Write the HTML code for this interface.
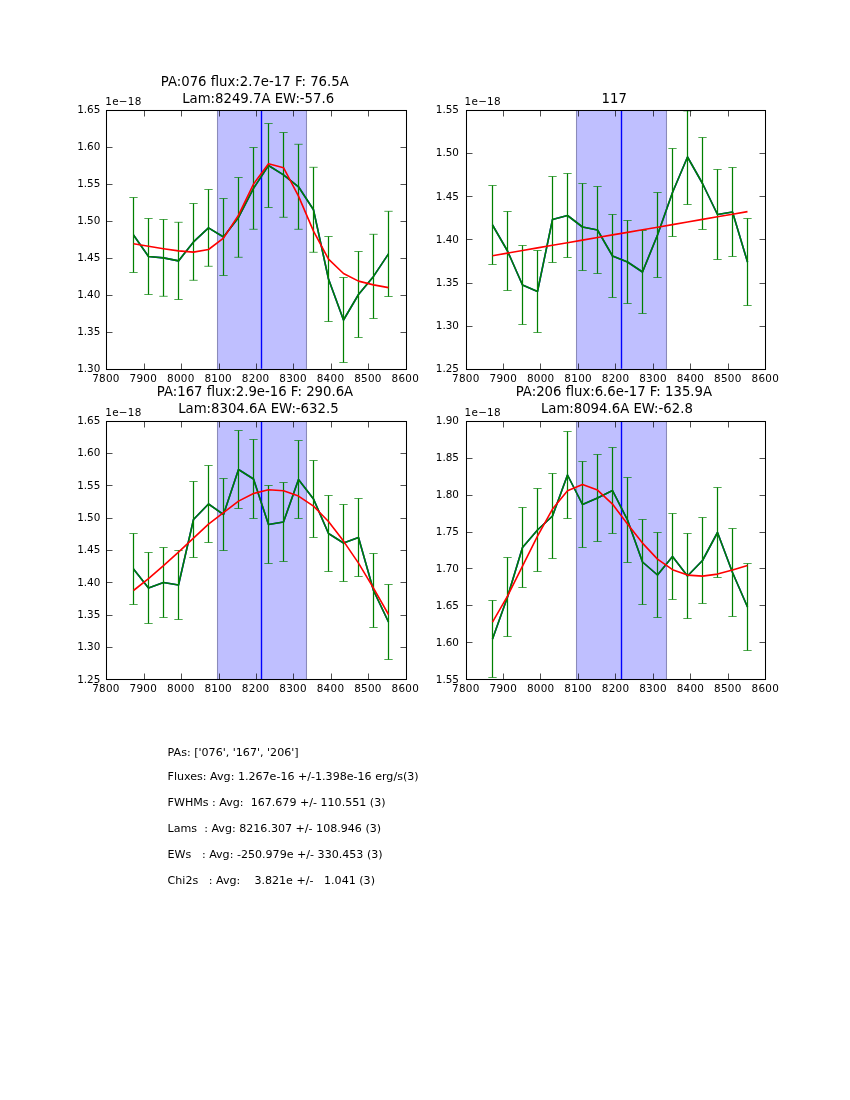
<!DOCTYPE html>
<html lang="en"><head><meta charset="utf-8"><title>Line fits</title>
<style>
html,body{margin:0;padding:0;background:#fff}
svg{display:block}
svg text{font-family:"DejaVu Sans","Liberation Sans",sans-serif;fill:#000;white-space:pre}
</style></head><body>
<svg width="850" height="1100" viewBox="0 0 850 1100">
<rect width="850" height="1100" fill="#fff"/>
<g id="ax1">
<clipPath id="c1"><rect x="106.5" y="110.5" width="300.0" height="259.0"/></clipPath>
<g clip-path="url(#c1)">
<rect x="217" y="108.00" width="90" height="262.82" fill="#0000ff" fill-opacity="0.25"/>
<path d="M217.5 110.0V368.82M306.5 110.0V368.82" stroke="#000" stroke-opacity="0.27" stroke-width="1.1" fill="none"/>
<line x1="261.5" y1="110.0" x2="261.5" y2="368.82" stroke="#0000ff" stroke-width="1.39"/>
<polyline points="133.5,235.0 148.5,256.5 163.5,257.9 178.5,260.9 193.5,241.9 208.5,227.9 223.5,237.0 238.5,217.4 253.5,188.4 268.5,165.5 283.5,174.9 298.5,186.8 313.5,209.8 328.5,279.0 343.5,320.0 358.5,294.5 373.5,276.4 388.5,253.9" fill="none" stroke="#0000ff" stroke-width="1.6" stroke-linejoin="round"/>
<path d="M133.5 197.5V272.5M148.5 218.5V294.5M163.5 219.5V296.3M178.5 222.3V299.5M193.5 203.5V280.3M208.5 189.5V266.3M223.5 198.5V275.5M238.5 177.5V257.3M253.5 147.5V229.3M268.5 123.5V207.5M283.5 132.5V217.3M298.5 144.3V229.3M313.5 167.3V252.3M328.5 236.5V321.5M343.5 277.5V362.5M358.5 251.5V337.5M373.5 234.3V318.5M388.5 211.3V296.5" stroke="#008000" stroke-width="1.25" fill="none"/>
<path d="M129.33 197.5H137.67M129.33 272.5H137.67M144.33 218.5H152.67M144.33 294.5H152.67M159.33 219.5H167.67M159.33 296.3H167.67M174.33 222.3H182.67M174.33 299.5H182.67M189.33 203.5H197.67M189.33 280.3H197.67M204.33 189.5H212.67M204.33 266.3H212.67M219.33 198.5H227.67M219.33 275.5H227.67M234.33 177.5H242.67M234.33 257.3H242.67M249.33 147.5H257.67M249.33 229.3H257.67M264.33 123.5H272.67M264.33 207.5H272.67M279.33 132.5H287.67M279.33 217.3H287.67M294.33 144.3H302.67M294.33 229.3H302.67M309.33 167.3H317.67M309.33 252.3H317.67M324.33 236.5H332.67M324.33 321.5H332.67M339.33 277.5H347.67M339.33 362.5H347.67M354.33 251.5H362.67M354.33 337.5H362.67M369.33 234.3H377.67M369.33 318.5H377.67M384.33 211.3H392.67M384.33 296.5H392.67" stroke="#008000" stroke-width="0.69" fill="none"/>
<polyline points="133.5,235.0 148.5,256.5 163.5,257.9 178.5,260.9 193.5,241.9 208.5,227.9 223.5,237.0 238.5,217.4 253.5,188.4 268.5,165.5 283.5,174.9 298.5,186.8 313.5,209.8 328.5,279.0 343.5,320.0 358.5,294.5 373.5,276.4 388.5,253.9" fill="none" stroke="#008000" stroke-width="1.6" stroke-linejoin="round"/>
<polyline points="133.5,243.7 148.5,246.3 163.5,248.7 178.5,250.9 193.5,252.1 208.5,249.5 223.5,238.1 238.5,215.1 253.5,184.1 268.5,163.7 283.5,167.7 298.5,196.1 313.5,231.1 328.5,259.1 343.5,273.5 358.5,281.1 373.5,284.9 388.5,287.6" fill="none" stroke="#ff0000" stroke-width="1.6" stroke-linejoin="round"/>
</g>
<path d="M106.5 369.5v-6.0M106.5 110.5v6.0M144.5 369.5v-6.0M144.5 110.5v6.0M181.5 369.5v-6.0M181.5 110.5v6.0M219.5 369.5v-6.0M219.5 110.5v6.0M256.5 369.5v-6.0M256.5 110.5v6.0M293.5 369.5v-6.0M293.5 110.5v6.0M331.5 369.5v-6.0M331.5 110.5v6.0M368.5 369.5v-6.0M368.5 110.5v6.0M406.5 369.5v-6.0M406.5 110.5v6.0M106.5 110.5h6.0M406.5 110.5h-6.0M106.5 147.5h6.0M406.5 147.5h-6.0M106.5 184.5h6.0M406.5 184.5h-6.0M106.5 221.5h6.0M406.5 221.5h-6.0M106.5 258.5h6.0M406.5 258.5h-6.0M106.5 295.5h6.0M406.5 295.5h-6.0M106.5 332.5h6.0M406.5 332.5h-6.0M106.5 369.5h6.0M406.5 369.5h-6.0" stroke="#000" stroke-width="0.69" fill="none"/>
<rect x="106.5" y="110.5" width="300.0" height="259.0" fill="none" stroke="#000" stroke-width="1.05"/>
<g font-size="10.42" letter-spacing="0.27">
<text x="105.95" y="381.80" text-anchor="middle">7800</text>
<text x="143.38" y="381.80" text-anchor="middle">7900</text>
<text x="180.81" y="381.80" text-anchor="middle">8000</text>
<text x="218.24" y="381.80" text-anchor="middle">8100</text>
<text x="255.66" y="381.80" text-anchor="middle">8200</text>
<text x="293.09" y="381.80" text-anchor="middle">8300</text>
<text x="330.52" y="381.80" text-anchor="middle">8400</text>
<text x="367.95" y="381.80" text-anchor="middle">8500</text>
<text x="405.38" y="381.80" text-anchor="middle">8600</text>
<text x="100.35" y="113.30" text-anchor="end" letter-spacing="0">1.65</text>
<text x="100.35" y="150.27" text-anchor="end" letter-spacing="0">1.60</text>
<text x="100.35" y="187.25" text-anchor="end" letter-spacing="0">1.55</text>
<text x="100.35" y="224.22" text-anchor="end" letter-spacing="0">1.50</text>
<text x="100.35" y="261.20" text-anchor="end" letter-spacing="0">1.45</text>
<text x="100.35" y="298.17" text-anchor="end" letter-spacing="0">1.40</text>
<text x="100.35" y="335.15" text-anchor="end" letter-spacing="0">1.35</text>
<text x="100.35" y="372.12" text-anchor="end" letter-spacing="0">1.30</text>
<text x="105.25" y="105.00">1e−18</text>
</g>
<g font-size="13.25" text-anchor="middle">
<text x="254.77" y="85.80">PA:076 flux:2.7e-17 F: 76.5A</text>
<text x="258.17" y="102.60">Lam:8249.7A EW:-57.6</text>
</g>
</g>
<g id="ax2">
<clipPath id="c2"><rect x="466.5" y="110.5" width="299.0" height="259.0"/></clipPath>
<g clip-path="url(#c2)">
<rect x="576" y="108.00" width="91" height="262.82" fill="#0000ff" fill-opacity="0.25"/>
<path d="M576.5 110.0V368.82M666.5 110.0V368.82" stroke="#000" stroke-opacity="0.27" stroke-width="1.1" fill="none"/>
<line x1="621.5" y1="110.0" x2="621.5" y2="368.82" stroke="#0000ff" stroke-width="1.39"/>
<polyline points="492.5,225.0 507.5,251.0 522.5,285.0 537.5,291.5 552.5,219.5 567.5,215.5 582.5,227.0 597.5,230.0 612.5,256.0 627.5,262.0 642.5,272.0 657.5,235.0 672.5,192.5 687.5,157.0 702.5,183.5 717.5,214.5 732.5,212.0 747.5,262.0" fill="none" stroke="#0000ff" stroke-width="1.6" stroke-linejoin="round"/>
<path d="M492.5 185.5V264.5M507.5 211.5V290.5M522.5 245.5V324.5M537.5 250.5V332.5M552.5 176.5V262.5M567.5 173.5V257.5M582.5 183.5V270.5M597.5 186.5V273.5M612.5 214.5V297.5M627.5 220.5V303.5M642.5 230.5V313.5M657.5 192.5V277.5M672.5 148.5V236.5M687.5 110.9V204.5M702.5 137.5V229.5M717.5 169.5V259.5M732.5 167.5V256.5M747.5 218.5V305.5" stroke="#008000" stroke-width="1.25" fill="none"/>
<path d="M488.33 185.5H496.67M488.33 264.5H496.67M503.33 211.5H511.67M503.33 290.5H511.67M518.33 245.5H526.67M518.33 324.5H526.67M533.33 250.5H541.67M533.33 332.5H541.67M548.33 176.5H556.67M548.33 262.5H556.67M563.33 173.5H571.67M563.33 257.5H571.67M578.33 183.5H586.67M578.33 270.5H586.67M593.33 186.5H601.67M593.33 273.5H601.67M608.33 214.5H616.67M608.33 297.5H616.67M623.33 220.5H631.67M623.33 303.5H631.67M638.33 230.5H646.67M638.33 313.5H646.67M653.33 192.5H661.67M653.33 277.5H661.67M668.33 148.5H676.67M668.33 236.5H676.67M683.33 110.9H691.67M683.33 204.5H691.67M698.33 137.5H706.67M698.33 229.5H706.67M713.33 169.5H721.67M713.33 259.5H721.67M728.33 167.5H736.67M728.33 256.5H736.67M743.33 218.5H751.67M743.33 305.5H751.67" stroke="#008000" stroke-width="0.69" fill="none"/>
<polyline points="492.5,225.0 507.5,251.0 522.5,285.0 537.5,291.5 552.5,219.5 567.5,215.5 582.5,227.0 597.5,230.0 612.5,256.0 627.5,262.0 642.5,272.0 657.5,235.0 672.5,192.5 687.5,157.0 702.5,183.5 717.5,214.5 732.5,212.0 747.5,262.0" fill="none" stroke="#008000" stroke-width="1.6" stroke-linejoin="round"/>
<polyline points="492.5,255.7 507.5,253.1 522.5,250.5 537.5,247.9 552.5,245.3 567.5,242.7 582.5,240.1 597.5,237.5 612.5,234.9 627.5,232.4 642.5,229.8 657.5,227.2 672.5,224.6 687.5,222.0 702.5,219.4 717.5,216.8 732.5,214.2 747.5,211.6" fill="none" stroke="#ff0000" stroke-width="1.6" stroke-linejoin="round"/>
</g>
<path d="M466.5 369.5v-6.0M466.5 110.5v6.0M503.5 369.5v-6.0M503.5 110.5v6.0M540.5 369.5v-6.0M540.5 110.5v6.0M578.5 369.5v-6.0M578.5 110.5v6.0M615.5 369.5v-6.0M615.5 110.5v6.0M653.5 369.5v-6.0M653.5 110.5v6.0M690.5 369.5v-6.0M690.5 110.5v6.0M728.5 369.5v-6.0M728.5 110.5v6.0M765.5 369.5v-6.0M765.5 110.5v6.0M466.5 110.5h6.0M765.5 110.5h-6.0M466.5 153.5h6.0M765.5 153.5h-6.0M466.5 196.5h6.0M765.5 196.5h-6.0M466.5 239.5h6.0M765.5 239.5h-6.0M466.5 283.5h6.0M765.5 283.5h-6.0M466.5 326.5h6.0M765.5 326.5h-6.0M466.5 369.5h6.0M765.5 369.5h-6.0" stroke="#000" stroke-width="0.69" fill="none"/>
<rect x="466.5" y="110.5" width="299.0" height="259.0" fill="none" stroke="#000" stroke-width="1.05"/>
<g font-size="10.42" letter-spacing="0.27">
<text x="465.87" y="381.80" text-anchor="middle">7800</text>
<text x="503.30" y="381.80" text-anchor="middle">7900</text>
<text x="540.73" y="381.80" text-anchor="middle">8000</text>
<text x="578.16" y="381.80" text-anchor="middle">8100</text>
<text x="615.58" y="381.80" text-anchor="middle">8200</text>
<text x="653.01" y="381.80" text-anchor="middle">8300</text>
<text x="690.44" y="381.80" text-anchor="middle">8400</text>
<text x="727.87" y="381.80" text-anchor="middle">8500</text>
<text x="765.30" y="381.80" text-anchor="middle">8600</text>
<text x="458.97" y="113.30" text-anchor="end" letter-spacing="0">1.55</text>
<text x="458.97" y="156.44" text-anchor="end" letter-spacing="0">1.50</text>
<text x="458.97" y="199.57" text-anchor="end" letter-spacing="0">1.45</text>
<text x="458.97" y="242.71" text-anchor="end" letter-spacing="0">1.40</text>
<text x="458.97" y="285.85" text-anchor="end" letter-spacing="0">1.35</text>
<text x="458.97" y="328.98" text-anchor="end" letter-spacing="0">1.30</text>
<text x="458.97" y="372.12" text-anchor="end" letter-spacing="0">1.25</text>
<text x="464.57" y="105.00">1e−18</text>
</g>
<g font-size="13.25" text-anchor="middle">
<text x="614.18" y="102.60">117</text>
</g>
</g>
<g id="ax3">
<clipPath id="c3"><rect x="106.5" y="421.5" width="300.0" height="258.0"/></clipPath>
<g clip-path="url(#c3)">
<rect x="217" y="418.59" width="90" height="262.82" fill="#0000ff" fill-opacity="0.25"/>
<path d="M217.5 420.59V679.41M306.5 420.59V679.41" stroke="#000" stroke-opacity="0.27" stroke-width="1.1" fill="none"/>
<line x1="261.5" y1="420.59" x2="261.5" y2="679.41" stroke="#0000ff" stroke-width="1.39"/>
<polyline points="133.5,569.0 148.5,588.0 163.5,582.5 178.5,585.0 193.5,519.5 208.5,504.0 223.5,514.5 238.5,469.5 253.5,479.0 268.5,524.5 283.5,522.0 298.5,479.5 313.5,499.0 328.5,533.5 343.5,543.0 358.5,537.5 373.5,590.5 388.5,622.0" fill="none" stroke="#0000ff" stroke-width="1.6" stroke-linejoin="round"/>
<path d="M133.5 533.5V604.5M148.5 552.5V623.5M163.5 547.5V617.5M178.5 550.5V619.5M193.5 481.5V557.5M208.5 465.5V542.5M223.5 478.5V550.5M238.5 430.5V508.5M253.5 439.5V518.5M268.5 485.5V563.5M283.5 482.5V561.5M298.5 440.5V518.5M313.5 460.5V537.5M328.5 495.5V571.5M343.5 504.5V581.5M358.5 498.5V576.5M373.5 553.5V627.5M388.5 584.5V659.5" stroke="#008000" stroke-width="1.25" fill="none"/>
<path d="M129.33 533.5H137.67M129.33 604.5H137.67M144.33 552.5H152.67M144.33 623.5H152.67M159.33 547.5H167.67M159.33 617.5H167.67M174.33 550.5H182.67M174.33 619.5H182.67M189.33 481.5H197.67M189.33 557.5H197.67M204.33 465.5H212.67M204.33 542.5H212.67M219.33 478.5H227.67M219.33 550.5H227.67M234.33 430.5H242.67M234.33 508.5H242.67M249.33 439.5H257.67M249.33 518.5H257.67M264.33 485.5H272.67M264.33 563.5H272.67M279.33 482.5H287.67M279.33 561.5H287.67M294.33 440.5H302.67M294.33 518.5H302.67M309.33 460.5H317.67M309.33 537.5H317.67M324.33 495.5H332.67M324.33 571.5H332.67M339.33 504.5H347.67M339.33 581.5H347.67M354.33 498.5H362.67M354.33 576.5H362.67M369.33 553.5H377.67M369.33 627.5H377.67M384.33 584.5H392.67M384.33 659.5H392.67" stroke="#008000" stroke-width="0.69" fill="none"/>
<polyline points="133.5,569.0 148.5,588.0 163.5,582.5 178.5,585.0 193.5,519.5 208.5,504.0 223.5,514.5 238.5,469.5 253.5,479.0 268.5,524.5 283.5,522.0 298.5,479.5 313.5,499.0 328.5,533.5 343.5,543.0 358.5,537.5 373.5,590.5 388.5,622.0" fill="none" stroke="#008000" stroke-width="1.6" stroke-linejoin="round"/>
<polyline points="133.5,590.5 148.5,578.7 163.5,565.7 178.5,552.1 193.5,538.1 208.5,524.1 223.5,512.7 238.5,501.1 253.5,493.5 268.5,489.7 283.5,490.7 298.5,496.1 313.5,506.1 328.5,521.5 343.5,541.1 358.5,563.1 373.5,588.1 388.5,614.5" fill="none" stroke="#ff0000" stroke-width="1.6" stroke-linejoin="round"/>
</g>
<path d="M106.5 679.5v-6.0M106.5 421.5v6.0M144.5 679.5v-6.0M144.5 421.5v6.0M181.5 679.5v-6.0M181.5 421.5v6.0M219.5 679.5v-6.0M219.5 421.5v6.0M256.5 679.5v-6.0M256.5 421.5v6.0M293.5 679.5v-6.0M293.5 421.5v6.0M331.5 679.5v-6.0M331.5 421.5v6.0M368.5 679.5v-6.0M368.5 421.5v6.0M406.5 679.5v-6.0M406.5 421.5v6.0M106.5 421.5h6.0M406.5 421.5h-6.0M106.5 453.5h6.0M406.5 453.5h-6.0M106.5 485.5h6.0M406.5 485.5h-6.0M106.5 518.5h6.0M406.5 518.5h-6.0M106.5 550.5h6.0M406.5 550.5h-6.0M106.5 582.5h6.0M406.5 582.5h-6.0M106.5 615.5h6.0M406.5 615.5h-6.0M106.5 647.5h6.0M406.5 647.5h-6.0M106.5 679.5h6.0M406.5 679.5h-6.0" stroke="#000" stroke-width="0.69" fill="none"/>
<rect x="106.5" y="421.5" width="300.0" height="258.0" fill="none" stroke="#000" stroke-width="1.05"/>
<g font-size="10.42" letter-spacing="0.27">
<text x="105.95" y="691.80" text-anchor="middle">7800</text>
<text x="143.38" y="691.80" text-anchor="middle">7900</text>
<text x="180.81" y="691.80" text-anchor="middle">8000</text>
<text x="218.24" y="691.80" text-anchor="middle">8100</text>
<text x="255.66" y="691.80" text-anchor="middle">8200</text>
<text x="293.09" y="691.80" text-anchor="middle">8300</text>
<text x="330.52" y="691.80" text-anchor="middle">8400</text>
<text x="367.95" y="691.80" text-anchor="middle">8500</text>
<text x="405.38" y="691.80" text-anchor="middle">8600</text>
<text x="100.35" y="423.89" text-anchor="end" letter-spacing="0">1.65</text>
<text x="100.35" y="456.24" text-anchor="end" letter-spacing="0">1.60</text>
<text x="100.35" y="488.59" text-anchor="end" letter-spacing="0">1.55</text>
<text x="100.35" y="520.95" text-anchor="end" letter-spacing="0">1.50</text>
<text x="100.35" y="553.30" text-anchor="end" letter-spacing="0">1.45</text>
<text x="100.35" y="585.65" text-anchor="end" letter-spacing="0">1.40</text>
<text x="100.35" y="618.00" text-anchor="end" letter-spacing="0">1.35</text>
<text x="100.35" y="650.36" text-anchor="end" letter-spacing="0">1.30</text>
<text x="100.35" y="682.71" text-anchor="end" letter-spacing="0">1.25</text>
<text x="105.25" y="415.59">1e−18</text>
</g>
<g font-size="13.25" text-anchor="middle">
<text x="254.97" y="396.39">PA:167 flux:2.9e-16 F: 290.6A</text>
<text x="258.37" y="413.19">Lam:8304.6A EW:-632.5</text>
</g>
</g>
<g id="ax4">
<clipPath id="c4"><rect x="466.5" y="421.5" width="299.0" height="258.0"/></clipPath>
<g clip-path="url(#c4)">
<rect x="576" y="418.59" width="91" height="262.82" fill="#0000ff" fill-opacity="0.25"/>
<path d="M576.5 420.59V679.41M666.5 420.59V679.41" stroke="#000" stroke-opacity="0.27" stroke-width="1.1" fill="none"/>
<line x1="621.5" y1="420.59" x2="621.5" y2="679.41" stroke="#0000ff" stroke-width="1.39"/>
<polyline points="492.5,639.0 507.5,597.0 522.5,547.5 537.5,530.0 552.5,516.0 567.5,475.0 582.5,504.5 597.5,498.0 612.5,490.5 627.5,520.0 642.5,562.0 657.5,575.0 672.5,556.5 687.5,576.0 702.5,560.5 717.5,532.5 732.5,572.5 747.5,607.0" fill="none" stroke="#0000ff" stroke-width="1.6" stroke-linejoin="round"/>
<path d="M492.5 600.5V677.5M507.5 557.5V636.5M522.5 507.5V587.5M537.5 488.5V571.5M552.5 473.5V558.5M567.5 431.5V518.5M582.5 461.5V547.5M597.5 454.5V541.5M612.5 447.5V533.5M627.5 477.5V562.5M642.5 519.5V604.5M657.5 532.5V617.5M672.5 513.5V599.5M687.5 533.5V618.5M702.5 517.5V603.5M717.5 487.5V577.5M732.5 528.5V616.5M747.5 563.5V650.5" stroke="#008000" stroke-width="1.25" fill="none"/>
<path d="M488.33 600.5H496.67M488.33 677.5H496.67M503.33 557.5H511.67M503.33 636.5H511.67M518.33 507.5H526.67M518.33 587.5H526.67M533.33 488.5H541.67M533.33 571.5H541.67M548.33 473.5H556.67M548.33 558.5H556.67M563.33 431.5H571.67M563.33 518.5H571.67M578.33 461.5H586.67M578.33 547.5H586.67M593.33 454.5H601.67M593.33 541.5H601.67M608.33 447.5H616.67M608.33 533.5H616.67M623.33 477.5H631.67M623.33 562.5H631.67M638.33 519.5H646.67M638.33 604.5H646.67M653.33 532.5H661.67M653.33 617.5H661.67M668.33 513.5H676.67M668.33 599.5H676.67M683.33 533.5H691.67M683.33 618.5H691.67M698.33 517.5H706.67M698.33 603.5H706.67M713.33 487.5H721.67M713.33 577.5H721.67M728.33 528.5H736.67M728.33 616.5H736.67M743.33 563.5H751.67M743.33 650.5H751.67" stroke="#008000" stroke-width="0.69" fill="none"/>
<polyline points="492.5,639.0 507.5,597.0 522.5,547.5 537.5,530.0 552.5,516.0 567.5,475.0 582.5,504.5 597.5,498.0 612.5,490.5 627.5,520.0 642.5,562.0 657.5,575.0 672.5,556.5 687.5,576.0 702.5,560.5 717.5,532.5 732.5,572.5 747.5,607.0" fill="none" stroke="#008000" stroke-width="1.6" stroke-linejoin="round"/>
<polyline points="492.5,622.1 507.5,596.1 522.5,566.1 537.5,536.1 552.5,509.1 567.5,490.7 582.5,484.5 597.5,490.1 612.5,504.1 627.5,524.1 642.5,543.1 657.5,559.1 672.5,569.7 687.5,575.1 702.5,576.1 717.5,574.1 732.5,570.1 747.5,565.5" fill="none" stroke="#ff0000" stroke-width="1.6" stroke-linejoin="round"/>
</g>
<path d="M466.5 679.5v-6.0M466.5 421.5v6.0M503.5 679.5v-6.0M503.5 421.5v6.0M540.5 679.5v-6.0M540.5 421.5v6.0M578.5 679.5v-6.0M578.5 421.5v6.0M615.5 679.5v-6.0M615.5 421.5v6.0M653.5 679.5v-6.0M653.5 421.5v6.0M690.5 679.5v-6.0M690.5 421.5v6.0M728.5 679.5v-6.0M728.5 421.5v6.0M765.5 679.5v-6.0M765.5 421.5v6.0M466.5 421.5h6.0M765.5 421.5h-6.0M466.5 458.5h6.0M765.5 458.5h-6.0M466.5 495.5h6.0M765.5 495.5h-6.0M466.5 532.5h6.0M765.5 532.5h-6.0M466.5 568.5h6.0M765.5 568.5h-6.0M466.5 605.5h6.0M765.5 605.5h-6.0M466.5 642.5h6.0M765.5 642.5h-6.0M466.5 679.5h6.0M765.5 679.5h-6.0" stroke="#000" stroke-width="0.69" fill="none"/>
<rect x="466.5" y="421.5" width="299.0" height="258.0" fill="none" stroke="#000" stroke-width="1.05"/>
<g font-size="10.42" letter-spacing="0.27">
<text x="465.87" y="691.80" text-anchor="middle">7800</text>
<text x="503.30" y="691.80" text-anchor="middle">7900</text>
<text x="540.73" y="691.80" text-anchor="middle">8000</text>
<text x="578.16" y="691.80" text-anchor="middle">8100</text>
<text x="615.58" y="691.80" text-anchor="middle">8200</text>
<text x="653.01" y="691.80" text-anchor="middle">8300</text>
<text x="690.44" y="691.80" text-anchor="middle">8400</text>
<text x="727.87" y="691.80" text-anchor="middle">8500</text>
<text x="765.30" y="691.80" text-anchor="middle">8600</text>
<text x="458.97" y="423.89" text-anchor="end" letter-spacing="0">1.90</text>
<text x="458.97" y="460.86" text-anchor="end" letter-spacing="0">1.85</text>
<text x="458.97" y="497.84" text-anchor="end" letter-spacing="0">1.80</text>
<text x="458.97" y="534.81" text-anchor="end" letter-spacing="0">1.75</text>
<text x="458.97" y="571.79" text-anchor="end" letter-spacing="0">1.70</text>
<text x="458.97" y="608.76" text-anchor="end" letter-spacing="0">1.65</text>
<text x="458.97" y="645.74" text-anchor="end" letter-spacing="0">1.60</text>
<text x="458.97" y="682.71" text-anchor="end" letter-spacing="0">1.55</text>
<text x="464.57" y="415.59">1e−18</text>
</g>
<g font-size="13.25" text-anchor="middle">
<text x="613.88" y="396.39">PA:206 flux:6.6e-17 F: 135.9A</text>
<text x="616.88" y="413.19">Lam:8094.6A EW:-62.8</text>
</g>
</g>
<g id="summary" font-size="11.09">
<text x="167.6" y="756" xml:space="preserve">PAs: ['076', '167', '206']</text>
<text x="167.6" y="780" xml:space="preserve">Fluxes: Avg: 1.267e-16 +/-1.398e-16 erg/s(3)</text>
<text x="167.6" y="806" xml:space="preserve">FWHMs : Avg:  167.679 +/- 110.551 (3)</text>
<text x="167.6" y="832" xml:space="preserve">Lams  : Avg: 8216.307 +/- 108.946 (3)</text>
<text x="167.6" y="858" xml:space="preserve">EWs   : Avg: -250.979e +/- 330.453 (3)</text>
<text x="167.6" y="884" xml:space="preserve">Chi2s   : Avg:    3.821e +/-   1.041 (3)</text>
</g>
</svg>
</body></html>
